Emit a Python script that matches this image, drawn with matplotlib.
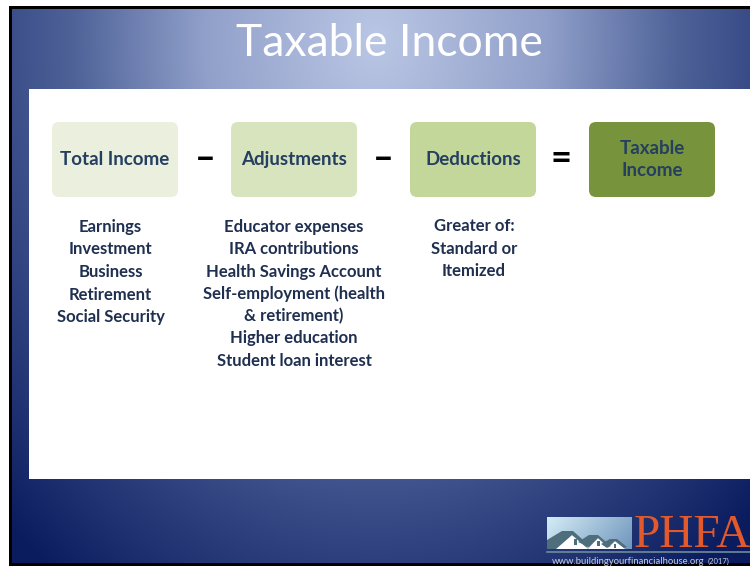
#!/usr/bin/env python3
"""
Slide recreation: Taxable Income = Total Income - Adjustments - Deductions
"""

import matplotlib
matplotlib.use('Agg')
import matplotlib.pyplot as plt
from matplotlib.patches import FancyBboxPatch, Rectangle, Polygon
import numpy as np

plt.rcParams['font.family'] = ['Lato', 'DejaVu Sans']

# Slide content
title = 'Taxable Income'
box_labels = ['Total Income', 'Adjustments', 'Deductions', 'Taxable\nIncome']
operators = ['–', '–', '=']
col_income = ['Earnings', 'Investment', 'Business', 'Retirement', 'Social Security']
col_adjust = ['Educator expenses', 'IRA contributions', 'Health Savings Account',
              'Self-employment (health', '& retirement)', 'Higher education',
              'Student loan interest']
col_deduct = ['Greater of:', 'Standard or', 'Itemized']
footer_url = 'www.buildingyourfinancialhouse.org'
footer_year = '(2017)'

box_colors = ['#ebf0de', '#d8e4bd', '#c4d79b', '#77933c']
text_navy = '#1f2f50'

W, H = 750, 566


def background(w, h):
    """Elliptical gradient, light at top-centre, navy towards the corners."""
    ys, xs = np.mgrid[0:h, 0:w]
    d = np.sqrt(((xs - 363) / 380.0) ** 2 + ((ys - 30) / 480.0) ** 2)
    stops = np.array([0.0, 0.45, 0.8, 1.0, 1.4])
    cols = np.array([[186, 198, 228],
                     [145, 160, 202],
                     [78, 98, 152],
                     [55, 74, 134],
                     [10, 28, 94]]) / 255.0
    img = np.zeros((h, w, 3))
    for c in range(3):
        img[..., c] = np.interp(d, stops, cols[:, c])
    return img


fig = plt.figure(figsize=(W / 100, H / 100), dpi=100)
ax = fig.add_axes([0, 0, 1, 1])
ax.set_xlim(0, W)
ax.set_ylim(H, 0)
ax.axis('off')

# slide frame + gradient
ax.add_patch(Rectangle((9, 6), W - 9, H - 6, facecolor='black', edgecolor='none', zorder=0))
ax.imshow(background(W - 12, H - 12), extent=(12, W, H - 3, 9), origin='upper',
          aspect='auto', zorder=1, interpolation='bilinear')

# white content panel
ax.add_patch(Rectangle((29, 89), W - 29, 390, facecolor='white', edgecolor='none', zorder=2))

ax.text(389, 44, title, ha='center', va='center', color='white',
        fontsize=32, fontweight='normal', zorder=3)

# boxes with operators
box_x = [52, 231, 410, 589]
box_w, box_h, box_y = 126, 75, 122
for x, label, fc in zip(box_x, box_labels, box_colors):
    ax.add_patch(FancyBboxPatch((x, box_y), box_w, box_h,
                                boxstyle='round,pad=0,rounding_size=7',
                                facecolor=fc, edgecolor='none', zorder=3))
    ax.text(x + box_w / 2, box_y + box_h / 2, label, ha='center', va='center',
            color='#243f60', fontsize=13.5, fontweight='bold', linespacing=1.3, zorder=4)

op_x = [205, 383, 561]
for x, op in zip(op_x, operators):
    ax.text(x, 158, op, ha='center', va='center', color='black',
            fontsize=26, fontweight='bold', zorder=4)

# detail columns
def column(cx, y0, step, lines):
    for i, line in enumerate(lines):
        ax.text(cx, y0 + i * step, line, ha='center', va='center',
                color=text_navy, fontsize=12, fontweight='bold', zorder=4)

column(110.5, 227, 22.5, col_income)
column(294, 227, 22.3, col_adjust)
column(474, 226, 22.5, col_deduct)

# logo: sky panel with houses
sky = np.zeros((32, 85, 3))
gx = np.linspace(0, 1, 85)[None, :]
gy = np.linspace(0, 1, 32)[:, None]
t = np.clip(0.75 * gx + 0.25 * gy, 0, 1)
for c, (a, b) in enumerate([(212, 112), (236, 150), (246, 188)]):
    sky[..., c] = (a + (b - a) * t) / 255.0
ax.imshow(sky, extent=(547, 632, 549, 517), origin='upper', aspect='auto', zorder=3)

roof_col = '#4f6e7c'
roofs = [
    [(547, 540), (562, 531), (573, 531), (590, 546), (586, 547), (572, 535), (556, 549), (547, 549)],
    [(578, 542), (589, 535), (598, 535), (611, 546), (608, 547), (598, 538), (589, 547)],
    [(601, 544), (610, 539), (617, 539), (627, 547), (624, 548), (615, 541), (607, 548)],
]
gables = [
    [(556, 549), (572, 535), (588, 549)],
    [(588, 549), (598, 538), (609, 549)],
    [(607, 549), (615, 541), (625, 549)],
]
windows = [(574, 539, 3, 6), (597, 541, 2.5, 5), (614, 544, 2, 4)]
for pts in gables:
    ax.add_patch(Polygon(pts, closed=True, facecolor='white', edgecolor='none', zorder=4))
for pts in roofs:
    ax.add_patch(Polygon(pts, closed=True, facecolor=roof_col, edgecolor='none', zorder=5))
for x, y, w, h in windows:
    ax.add_patch(Rectangle((x, y), w, h, facecolor=roof_col, edgecolor='none', zorder=5))

ax.text(634, 547, 'PHFA', ha='left', va='baseline', color='#e2592c',
        fontsize=34, family='Liberation Serif', zorder=4)
ax.plot([547, W], [551.5, 551.5], color='#6e8b9a', lw=1.2, zorder=4)

# footer: url followed by the smaller year, placed after the measured url
url_txt = ax.text(552, 561, footer_url, ha='left', va='center', color='#c8ccd8',
                  fontsize=6.8, zorder=4)
fig.canvas.draw()
bb = url_txt.get_window_extent(renderer=fig.canvas.get_renderer())
url_end = ax.transData.inverted().transform((bb.x1, bb.y0))[0]
ax.text(url_end + 3, 561, footer_year, ha='left', va='center', color='#c8ccd8',
        fontsize=5.5, zorder=4)

fig.savefig('out.png', dpi=100)
